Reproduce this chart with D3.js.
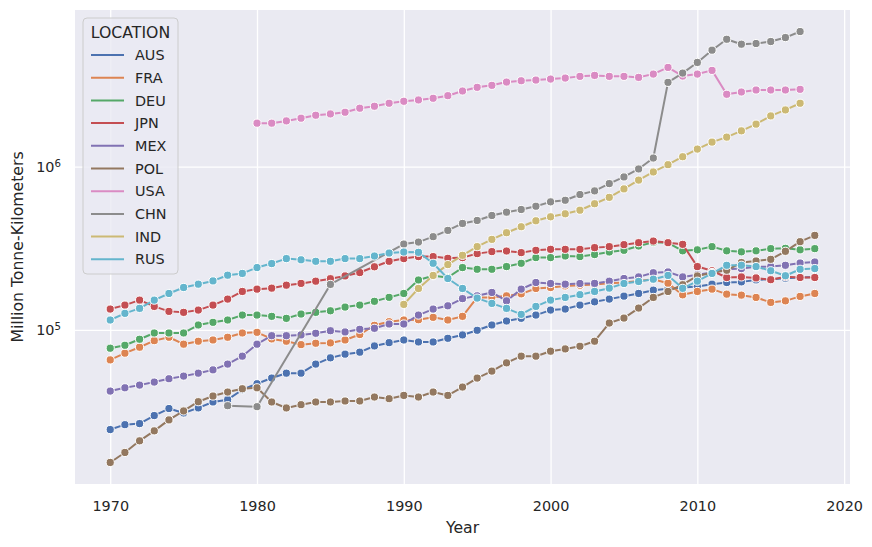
<!DOCTYPE html>
<html><head><meta charset="utf-8">
<script src="https://cdn.jsdelivr.net/npm/d3@7/dist/d3.min.js"></script>
<style>
body{margin:0;background:#fff;}
text{font-family:"DejaVu Sans",sans-serif;fill:#262626;}
</style>
</head><body>
<svg id="chart" width="872" height="547"></svg>
<script>
const years = [1970,1971,1972,1973,1974,1975,1976,1977,1978,1979,1980,1981,1982,1983,1984,1985,1986,1987,1988,1989,1990,1991,1992,1993,1994,1995,1996,1997,1998,1999,2000,2001,2002,2003,2004,2005,2006,2007,2008,2009,2010,2011,2012,2013,2014,2015,2016,2017,2018];
const N = null;
const AUS = [24450,26200,26600,29800,32900,30900,33200,36100,37300,42900,46700,50600,54200,54200,61600,67300,70900,72900,79600,83400,86600,84200,84200,88700,93000,99300,107000,113200,117600,123100,132100,134000,141700,148400,154200,160800,167000,175000,178700,181800,184400,190400,195000,196700,202300,204200,207100,209200,211000];
const FRA = [65400,71900,78200,85800,90000,81600,85100,86600,90000,95600,96500,87900,85100,81100,82700,83100,86600,93600,106500,112100,114800,115200,119200,114800,120900,157900,157900,161500,166100,179200,181700,185800,187700,189500,193100,195000,199400,204200,193100,163800,171800,177500,165400,163100,157900,147200,150500,160200,167000];
const DEU = [77100,80400,87500,95600,95600,95600,107000,111100,114800,123100,123100,120900,117500,124900,127900,130800,137800,141700,149500,158100,167000,202000,214500,209200,240700,235000,235000,244100,255700,277100,277100,283400,281000,289400,299800,307100,326300,343600,341200,304900,309200,323500,304900,300600,304900,314500,315800,309200,314500];
const JPN = [134000,141700,152000,139100,129700,127900,132100,141700,154200,171800,177500,180000,187700,192500,198600,205700,213900,224400,243400,263000,273200,281000,281000,274400,277100,293100,301500,304100,297300,307100,311400,311400,311400,319000,323500,332700,342100,349900,342100,334100,244100,230100,209200,211000,208000,202800,211600,209200,209200];
const MEX = [42100,44100,45800,47800,50100,52000,54200,56800,61600,68900,81600,92000,92000,93000,95200,98700,97000,100700,102100,108500,108500,123100,134000,140300,155300,161500,169400,150500,177500,195000,192200,190400,192200,192500,198600,206300,211000,223800,226300,211000,217600,224400,235000,237400,243400,244100,248600,256800,260500];
const POL = [15370,17700,20860,24010,28030,31800,36240,39260,41530,43510,44100,36090,33170,34740,36090,36090,36600,36600,38710,37800,39600,38710,41530,39600,44560,50570,55800,62710,68900,68900,73910,76340,79300,85100,110000,118000,135900,157900,171800,189000,213900,223800,231800,258300,264200,270500,302800,347000,379200];
const USA = [N,N,N,N,N,N,N,N,N,N,1848000,1848000,1909000,1983000,2068000,2106000,2157000,2283000,2348000,2449000,2518000,2565000,2627000,2725000,2911000,3066000,3153000,3303000,3364000,3397000,3445000,3494000,3579000,3629000,3579000,3579000,3528000,3696000,4061000,3594000,3696000,3894000,2779000,2870000,2952000,2952000,2952000,2981000,N];
const CHN = [N,N,N,N,N,N,N,N,34250,N,33780,N,N,N,N,189800,N,N,N,N,335400,345000,372300,406800,448700,468000,502200,526000,546400,572300,608700,622600,674800,710600,787600,865100,968300,1130000,3289000,3749000,4357000,5180000,6044000,5635000,5691000,5853000,6190000,6739000,N];
const IND = [N,N,N,N,N,N,N,N,N,N,N,N,N,N,N,N,N,N,N,N,143100,179200,215400,251100,286200,323500,358400,393700,428400,466000,493000,514300,541000,592700,648600,731000,827300,928200,1028500,1151000,1282000,1415000,1518000,1659000,1823000,2048000,2228000,2449000,N];
const RUS = [114800,126100,135300,152000,167000,181700,190400,199400,216100,221600,240700,254700,273200,268700,263000,263000,273200,273200,283400,295600,299800,298500,255700,206300,179200,156400,145100,135300,124300,139100,152000,157900,164200,171800,180000,192200,197800,204200,215400,179500,198600,221600,248600,248600,244100,230100,214500,235000,237400];

const locations = ["AUS","FRA","DEU","JPN","MEX","POL","USA","CHN","IND","RUS"];
const seriesValues = [AUS,FRA,DEU,JPN,MEX,POL,USA,CHN,IND,RUS];
const colors = ["#4c72b0","#dd8452","#55a868","#c44e52","#8172b3","#937860","#da8bc3","#8c8c8c","#ccb974","#64b5cd"];
const xTicks = [1970,1980,1990,2000,2010,2020];
const yTicks = [1e5,1e6];
const yExps = ["5","6"];

const svg = d3.select("#chart");
const L = 75, R = 850, T = 10, B = 484;

const series = locations.map((loc,k)=>({
  loc, color: colors[k],
  pts: years.map((yr,i)=>({yr, v: seriesValues[k][i]})).filter(d=>d.v!=null)
}));

const xmin = d3.min(years), xmax = d3.max(years);
const xm = (xmax-xmin)*0.05;
const x = d3.scaleLinear().domain([xmin-xm, xmax+xm]).range([L,R]);

const allV = series.flatMap(s=>s.pts.map(d=>d.v));
const lmin = Math.log10(d3.min(allV)), lmax = Math.log10(d3.max(allV));
const lm = (lmax-lmin)*0.05;
const y = d3.scaleLog().domain([10**(lmin-lm), 10**(lmax+lm)]).range([B,T]);

svg.append("rect").attr("x",L).attr("y",T).attr("width",R-L).attr("height",B-T).attr("fill","#eaeaf2");

const gx = svg.append("g").attr("transform",`translate(0,${B})`)
  .call(d3.axisBottom(x).tickValues(xTicks).tickFormat(d3.format("d")).tickSize(-(B-T)).tickPadding(16.5));
gx.select(".domain").remove();
gx.selectAll("line").attr("stroke","#fff").attr("stroke-width",1.3);
gx.selectAll("text").attr("font-size","14.4px").attr("fill","#262626").attr("font-family","DejaVu Sans");

const gy = svg.append("g").attr("transform",`translate(${L},0)`)
  .call(d3.axisLeft(y).tickValues(yTicks).tickFormat("").tickSize(-(R-L)).tickPadding(8));
gy.select(".domain").remove();
gy.selectAll("line").attr("stroke","#fff").attr("stroke-width",1.3);
gy.selectAll(".tick text").each(function(d,i){
  const t = d3.select(this).attr("x",-14).attr("dy","0.32em").attr("font-size","14.4px").attr("text-anchor","end");
  t.append("tspan").text("10");
  t.append("tspan").attr("dy","-0.45em").attr("font-size","10.2px").text(yExps[i]);
});

const line = d3.line().x(d=>x(d.yr)).y(d=>y(d.v));
series.forEach(s=>{
  const g = svg.append("g");
  g.append("path").datum(s.pts).attr("d",line).attr("fill","none")
    .attr("stroke",s.color).attr("stroke-width",2).attr("stroke-linejoin","round").attr("stroke-linecap","round");
  g.selectAll("circle").data(s.pts).join("circle")
    .attr("cx",d=>x(d.yr)).attr("cy",d=>y(d.v)).attr("r",4.1)
    .attr("fill",s.color).attr("stroke","#fff").attr("stroke-width",1);
});

svg.append("text").attr("x",(L+R)/2).attr("y",533).attr("text-anchor","middle").attr("font-size","15.7px").text("Year");
svg.append("text").attr("transform",`translate(23,${(T+B)/2}) rotate(-90)`).attr("text-anchor","middle").attr("font-size","15.7px").text("Million Tonne-Kilometers");

const lg = svg.append("g");
lg.append("rect").attr("x",83).attr("y",18).attr("width",95).attr("height",256).attr("rx",4)
  .attr("fill","#eaeaf2").attr("fill-opacity",0.8).attr("stroke","#cccccc").attr("stroke-width",1);
lg.append("text").attr("x",130.5).attr("y",38).attr("text-anchor","middle").attr("font-size","15.7px").text("LOCATION");
series.forEach((s,i)=>{
  const cy = 55 + i*22.7;
  lg.append("line").attr("x1",91).attr("x2",124).attr("y1",cy).attr("y2",cy).attr("stroke",s.color).attr("stroke-width",2);
  lg.append("text").attr("x",135).attr("y",cy).attr("dy","0.36em").attr("font-size","14.4px").text(s.loc);
});
</script>
</body></html>
